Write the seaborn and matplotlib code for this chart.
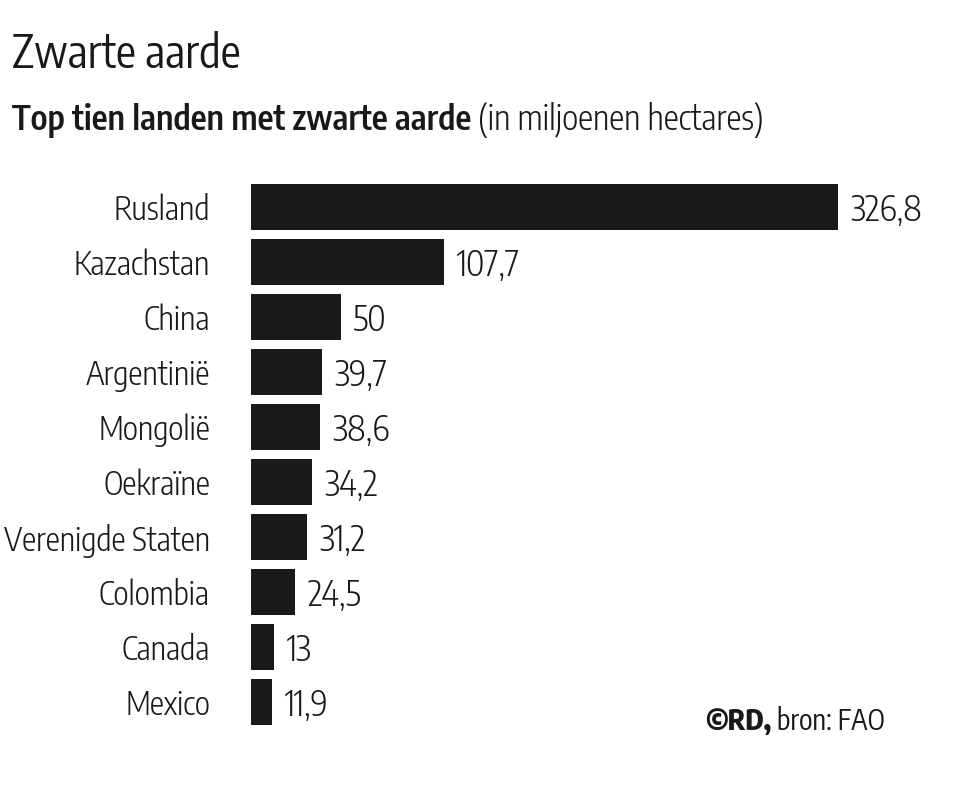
import matplotlib
matplotlib.use("Agg")
import matplotlib.pyplot as plt
import seaborn as sns
import pandas as pd
from matplotlib import font_manager as fm
from matplotlib.textpath import TextPath
from matplotlib.font_manager import FontProperties

countries = ["Rusland", "Kazachstan", "China", "Argentinië", "Mongolië", "Oekraïne",
             "Verenigde Staten", "Colombia", "Canada", "Mexico"]
values = [326.8, 107.7, 50, 39.7, 38.6, 34.2, 31.2, 24.5, 13, 11.9]
value_labels = ["326,8", "107,7", "50", "39,7", "38,6", "34,2", "31,2", "24,5", "13", "11,9"]

title = "Zwarte aarde"
subtitle_bold = "Top tien landen met zwarte aarde"
subtitle_rest = " (in miljoenen hectares)"
source_bold = "©RD,"
source_rest = " bron: FAO"

sns.set_theme(style="white")
names = {f.name for f in fm.fontManager.ttflist}
prefs = ["Encode Sans Condensed", "Sofia Sans Condensed", "PT Sans Narrow", "Fira Sans Condensed"]
fam = next((p for p in prefs if p in names), "DejaVu Sans")
plt.rcParams["font.family"] = [fam, "DejaVu Sans"]

df = pd.DataFrame({"land": countries, "waarde": values})

W, H = 973, 790
fig = plt.figure(figsize=(W / 100, H / 100), dpi=100)
renderer = fig.canvas.get_renderer()


def width_at(text, size, weight):
    t = fig.text(0, 0, text, fontsize=size, fontweight=weight)
    w = t.get_window_extent(renderer).width
    t.remove()
    return w


def fit_size(text, target, weight):
    return 20 * target / width_at(text, 20, weight)


def cap_size(glyph, cap_px, weight):
    tp = TextPath((0, 0), glyph, size=100, prop=FontProperties(family=fam, weight=weight))
    ratio = tp.get_extents().height / 100
    return cap_px / ratio * 72 / 100


ax = fig.add_axes([251 / W, 1 - 729.5 / H, 646.6 / W, 550 / H])

ink = "#1b1819"
sns.barplot(data=df, x="waarde", y="land", orient="h", color=ink,
            width=0.84, saturation=1, ax=ax, edgecolor="none")
ax.set_xlim(0, 360)
ax.set_ylim(9.5, -0.5)
ax.set_xlabel("")
ax.set_ylabel("")
ax.set_xticks([])
for s in ax.spines.values():
    s.set_visible(False)

lab_size = min(cap_size("H", 24.5, 300), fit_size("Verenigde Staten", 207, 300))
val_size = 0.5 * (cap_size("8", 24, 300) + fit_size("326,8", 78, 300))
ax.tick_params(axis="y", length=0, pad=41 * 72 / 100, labelsize=lab_size, labelcolor=ink)
for lbl in ax.get_yticklabels():
    lbl.set_fontweight(300)
    lbl.set_verticalalignment("center_baseline")

for i, (v, lab) in enumerate(zip(values, value_labels)):
    ax.annotate(lab, xy=(v, i), xytext=(12 * 72 / 100, 0), textcoords="offset points",
                ha="left", va="center_baseline", fontsize=val_size, fontweight=300, color=ink)

tsize = fit_size(title, 229, 400)
fig.text(12 / W, 1 - 68 / H, title, fontsize=tsize, fontweight=400, color=ink,
         ha="left", va="baseline")

w_sub = width_at(subtitle_bold, 20, 600) + width_at(subtitle_rest, 20, 300)
ssize = 20 * 753 / w_sub
t1 = fig.text(12 / W, 1 - 130 / H, subtitle_bold, fontsize=ssize, fontweight=600,
              color=ink, ha="left", va="baseline")
bb = t1.get_window_extent(renderer)
fig.text(bb.x1 / W, 1 - 130 / H, subtitle_rest, fontsize=ssize, fontweight=300, color=ink,
         ha="left", va="baseline")

w_src = width_at(source_bold, 20, 800) + width_at(source_rest, 20, 400)
rsize = 20 * 180 / w_src
t2 = fig.text(705 / W, 1 - 730 / H, source_bold, fontsize=rsize, fontweight=800,
              color=ink, ha="left", va="baseline")
bb2 = t2.get_window_extent(renderer)
fig.text(bb2.x1 / W, 1 - 730 / H, source_rest, fontsize=rsize, fontweight=400, color=ink,
         ha="left", va="baseline")

fig.savefig("out.png", dpi=100, facecolor="white")
